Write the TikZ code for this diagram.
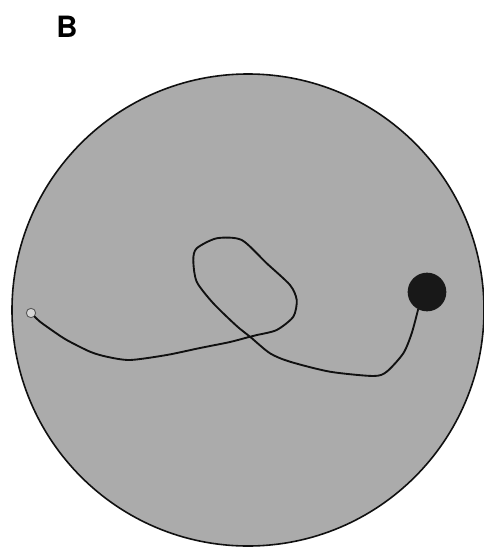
\documentclass[tikz,border=0pt]{standalone}
\usepackage{fontspec}
\setsansfont{TeX Gyre Heros}
\usetikzlibrary{positioning}
\definecolor{mzPool}{HTML}{ABABAB}
\definecolor{mzEdge}{HTML}{101010}
\definecolor{mzGoal}{HTML}{181818}
\definecolor{mzStart}{HTML}{5A5A5A}
\tikzset{
  pool/.style={circle, draw=mzEdge, fill=mzPool, line width=1.2pt, inner sep=0pt, minimum size=354pt},
  goal/.style={circle, fill=mzGoal, inner sep=0pt, minimum size=29pt},
  startpt/.style={circle, draw=mzStart, fill=mzPool!50, line width=0.7pt, inner sep=0pt, minimum size=7pt},
  track/.style={draw=mzEdge, line width=1.4pt, line join=round, line cap=round},
  panel/.style={font=\sffamily\bfseries\fontsize{22}{22}\selectfont}
}
\begin{document}
\begin{tikzpicture}[x=0.75pt, y=-0.75pt]
  \useasboundingbox (0,0) rectangle (484,553);
  \fill[white] (0,0) rectangle (484,553);
  \node[panel] (lbl) at (67,27) {B};
  \node[pool] (arena) at (248,310) {};
  \node[goal] (platform) at (427,292) {};
  \node[startpt] (start) at (31,313) {};
  % swim path
  \draw[track] plot[smooth, tension=0.45] coordinates {
    (start.-45) (40,321.7) (53,331) (66.7,340) (90,351.7) (106.7,356.7)
    (130,360) (166.7,355) (200,348) (230,342) (250,336.7) (257,335)
    (276.7,330) (293.3,316.7) (296.7,300) (290,285) (266.7,263.3)
    (241.7,240) (216.7,238.3) (196.7,248.3) (193.3,260) (196.7,281.7)
    (213.3,303.3) (236.7,326) (250,336.7) (270,353.3) (290,361.7)
    (330,371.7) (373.3,376) (386.7,371.7) (403.3,353.3) (411.7,333.3)
    (platform.243)};
\end{tikzpicture}
\end{document}
